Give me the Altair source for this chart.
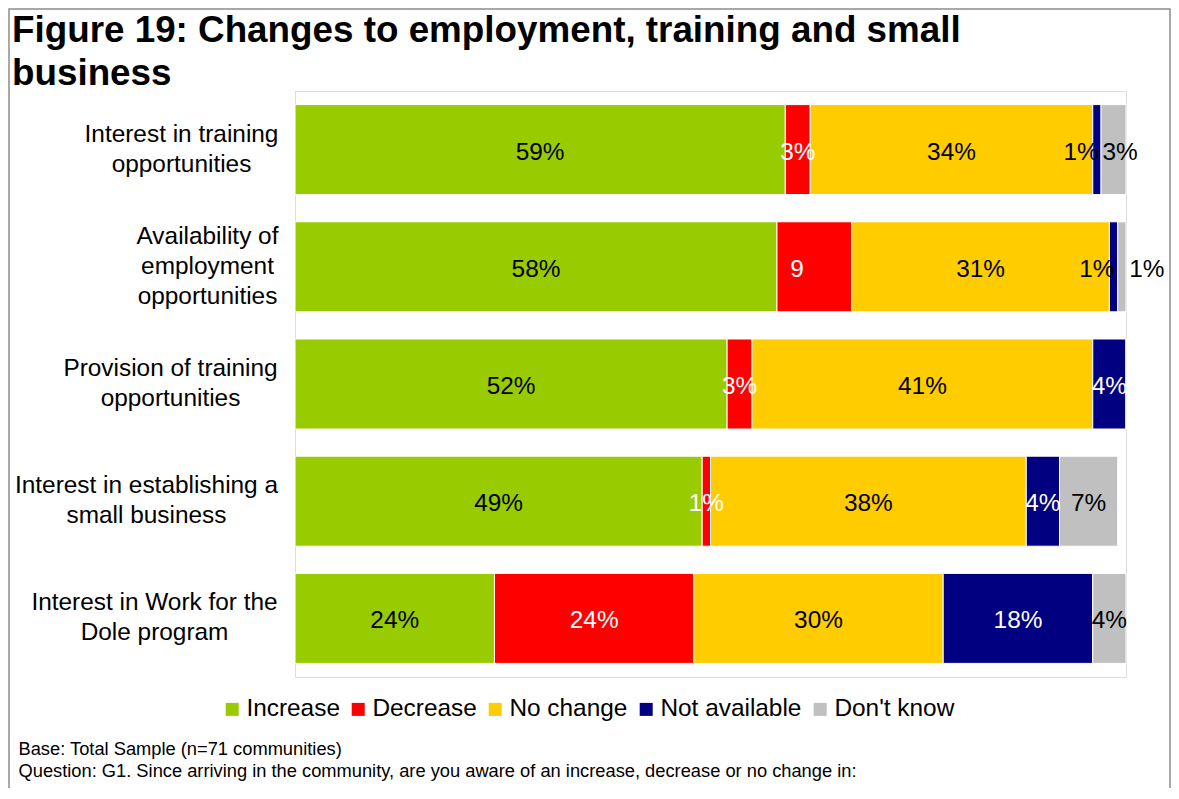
import altair as alt
import pandas as pd

# ---------------- data ----------------
CATEGORIES = [
    "Interest in training|opportunities",
    "Availability of|employment|opportunities",
    "Provision of training|opportunities",
    "Interest in establishing a|small business",
    "Interest in Work for the|Dole program",
]
SERIES = ["Increase", "Decrease", "No change", "Not available", "Don't know"]
INCREASE = [59, 58, 52, 49, 24]
DECREASE = [3, 9, 3, 1, 24]
NO_CHANGE = [34, 31, 41, 38, 30]
NOT_AVAILABLE = [1, 1, 4, 4, 18]
DONT_KNOW = [3, 1, 0, 7, 4]
SERIES_VALUES = [INCREASE, DECREASE, NO_CHANGE, NOT_AVAILABLE, DONT_KNOW]

# label text exceptions (as printed in the figure)
LABEL_TEXT_OVERRIDE = {(1, "Decrease"): "9"}

TITLE_LINES = ["Figure 19: Changes to employment, training and small", "business"]
FOOTNOTES = [
    "Base: Total Sample (n=71 communities)",
    "Question: G1. Since arriving in the community, are you aware of an increase, decrease or no change in:",
]

# ---------------- styles ----------------
COLORS = ["#99CC00", "#FF0000", "#FFCC00", "#000080", "#C0C0C0"]
LIGHT_LABEL_SERIES = {"Decrease", "Not available"}
DARK_LABELS = {(0, "Not available"), (1, "Not available")}
# label nudges (percentage points) where labels were moved to avoid overlap
LABEL_NUDGE = {
    (0, "Not available"): -1.9,
    (0, "Don't know"): 0.8,
    (1, "Decrease"): -2.1,
    (1, "Not available"): -2.0,
    (1, "Don't know"): 3.0,
}
# distance from axis to the centre of each (centred, multi-line) category label
LABEL_CENTER_PAD = [114, 88, 125, 149, 141]
# vertical shift to centre multi-line labels on their bar
LABEL_VSHIFT = [-15, -30, -15, -15, -15]

FONT = "Liberation Sans"

rows = []
for ci, cat in enumerate(CATEGORIES):
    for si, (s, vals) in enumerate(zip(SERIES, SERIES_VALUES)):
        v = vals[ci]
        light = s in LIGHT_LABEL_SERIES and (ci, s) not in DARK_LABELS
        rows.append(
            {
                "category": cat,
                "series": s,
                "order": si,
                "value": v,
                "label": LABEL_TEXT_OVERRIDE.get((ci, s), f"{v}%"),
                "nudge": LABEL_NUDGE.get((ci, s), 0.0),
                "label_color": "white" if light else "black",
            }
        )
df = pd.DataFrame(rows)

W, H = 831, 586
PAD = {"left": 287, "top": 83, "right": 45, "bottom": 111}

y_axis = alt.Axis(
    title=None,
    domain=False,
    ticks=False,
    tickSize=0,
    labelExpr="split(datum.label, '|')",
    labelAlign="center",
    labelBaseline="middle",
    labelFont=FONT,
    labelFontSize=24.4,
    labelColor="black",
    labelLineHeight=30,
    labelLimit=500,
    labelPadding={
        "condition": [
            {"test": f"datum.value === '{c}'", "value": p}
            for c, p in zip(CATEGORIES, LABEL_CENTER_PAD)
        ],
        "value": LABEL_CENTER_PAD[0],
    },
    labelOffset={
        "condition": [
            {"test": f"datum.value === '{c}'", "value": o}
            for c, o in zip(CATEGORIES, LABEL_VSHIFT)
        ],
        "value": LABEL_VSHIFT[0],
    },
)

x_axis = alt.Axis(
    title=FOOTNOTES,
    labels=False,
    ticks=False,
    domain=False,
    grid=False,
    titleX=18 - 295,
    titleY=77,
    titleAlign="left",
    titleBaseline="alphabetic",
    titleFont=FONT,
    titleFontSize=18.3,
    titleFontWeight="normal",
    titleColor="black",
    titleLineHeight=22,
)

y_enc = alt.Y(
    "category:N",
    sort=CATEGORIES,
    scale=alt.Scale(paddingInner=0.232, paddingOuter=0.116),
    axis=y_axis,
)
x_scale = alt.Scale(domain=[0, 100], nice=False, zero=True)

base = (
    alt.Chart(df)
    .transform_stack(
        stack="value",
        groupby=["category"],
        sort=[alt.SortField("order", order="ascending")],
        as_=["x0", "x1"],
    )
    .transform_calculate(mid="(datum.x0 + datum.x1) / 2 + datum.nudge")
)

bars = base.mark_bar(stroke="white", strokeWidth=1).encode(
    y=y_enc,
    x=alt.X("x0:Q", scale=x_scale, axis=x_axis),
    x2="x1:Q",
    color=alt.Color(
        "series:N",
        scale=alt.Scale(domain=SERIES, range=COLORS),
        legend=alt.Legend(
            title=None,
            orient="none",
            legendX=220 - 295,
            legendY=606,
            direction="horizontal",
            symbolType="square",
            symbolSize=169,
            symbolStrokeWidth=0,
            symbolOpacity=1,
            labelFont=FONT,
            labelFontSize=24.4,
            labelColor="black",
            labelOffset=2,
            columnPadding=6,
            padding=0,
            labelLimit=400,
        ),
    ),
)

texts = (
    base.transform_filter("datum.value > 0")
    .mark_text(font=FONT, fontSize=24.4, baseline="middle", align="center", dy=3)
    .encode(
        y=y_enc,
        x=alt.X("mid:Q", scale=x_scale, axis=x_axis),
        text="label:N",
        color=alt.Color("label_color:N", scale=None),
    )
)

frame = (
    alt.Chart(pd.DataFrame({"frame": [0]}))
    .mark_rect(fillOpacity=0, stroke="#8c8c8c", strokeWidth=1.5)
    .encode(
        x=alt.value(-286),
        x2=alt.value(W + PAD["right"] - 1),
        y=alt.value(-82),
        y2=alt.value(H + PAD["bottom"] + 40),
    )
)

chart = (
    alt.layer(frame, bars, texts)
    .properties(
        width=W,
        height=H,
        autosize=alt.AutoSizeParams(type="none"),
        padding=PAD,
        title=alt.TitleParams(
            text=TITLE_LINES,
            anchor="start",
            frame="group",
            dx=-283,
            dy=85,
            offset=0,
            font=FONT,
            fontSize=36.8,
            fontWeight="bold",
            color="black",
            lineHeight=43,
        ),
    )
    .configure_view(strokeWidth=0)
    .configure(background="white")
)

chart.save("out.html", embed_options={"renderer": "svg", "actions": False})
